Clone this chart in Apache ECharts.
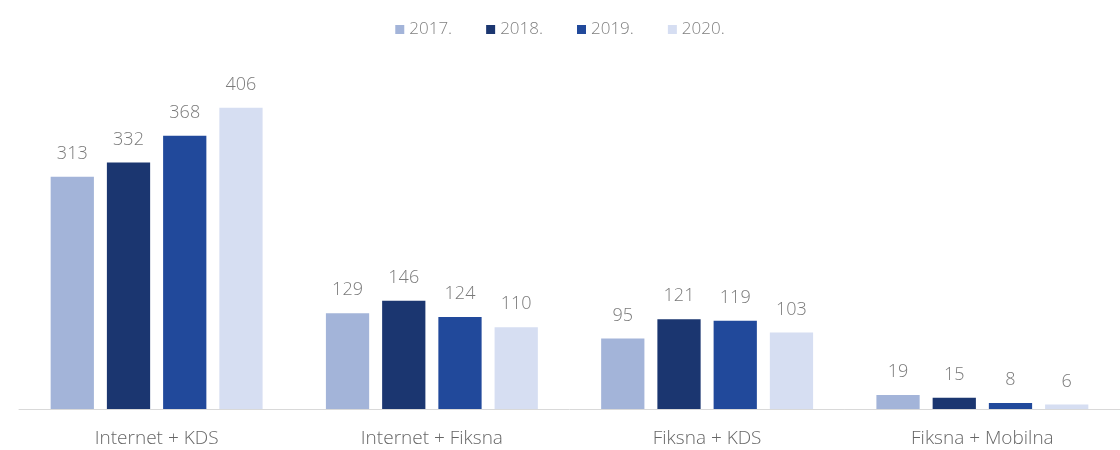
<!DOCTYPE html>
<html>
<head>
<meta charset="utf-8">
<script src="https://cdn.jsdelivr.net/npm/echarts@6/dist/echarts.min.js"></script>
<style>
	html, body { margin: 0; padding: 0; background: #fff; }
	#chart { width: 1120px; height: 450px; }
</style>
</head>
<body>
<div id="chart"></div>
<script>
var categories = ['Internet + KDS', 'Internet + Fiksna', 'Fiksna + KDS', 'Fiksna + Mobilna'];
var years = ['2017.', '2018.', '2019.', '2020.'];
var data2017 = [313, 129, 95, 19];
var data2018 = [332, 146, 121, 15];
var data2019 = [368, 124, 119, 8];
var data2020 = [406, 110, 103, 6];
var colors = ['#a3b4d9', '#1b3670', '#21499b', '#d6def2'];

var chart = echarts.init(document.getElementById('chart'));

function bar(name, values) {
	return {
		name: name,
		type: 'bar',
		barGap: '30%',
		barCategoryGap: '23%',
		label: {
			show: true,
			position: 'top',
			distance: 14,
			color: '#7a7a7a',
			fontSize: 18,
			fontWeight: 300,
			fontFamily: 'Open Sans'
		},
		data: values
	};
}

chart.setOption({
	color: colors,
	animation: false,
	legend: {
		top: 16,
		left: 'center',
		itemWidth: 9,
		itemHeight: 9,
		itemGap: 34,
		icon: 'rect',
		textStyle: {
			color: '#808080',
			fontSize: 17,
			fontWeight: 300,
			fontFamily: 'Open Sans'
		},
		data: years
	},
	grid: {
		left: 19,
		right: 0,
		top: 75,
		bottom: 41
	},
	xAxis: {
		type: 'category',
		data: categories,
		axisLine: { lineStyle: { color: '#d9d9d9' } },
		axisTick: { show: false },
		axisLabel: {
			color: '#666666',
			fontSize: 19,
			fontWeight: 300,
			fontFamily: 'Open Sans',
			margin: 20
		}
	},
	yAxis: {
		type: 'value',
		min: 0,
		max: 450,
		show: false,
		splitLine: { show: false }
	},
	series: [
		bar(years[0], data2017),
		bar(years[1], data2018),
		bar(years[2], data2019),
		bar(years[3], data2020)
	]
});
</script>
</body>
</html>
